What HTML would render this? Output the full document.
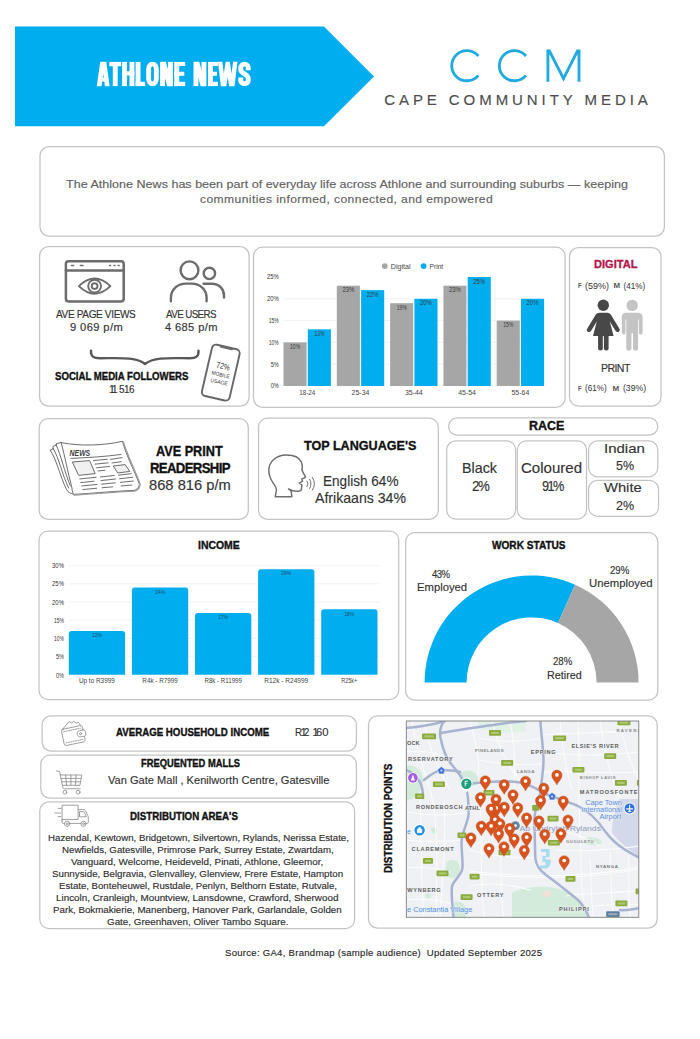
<!DOCTYPE html>
<html lang="en"><head><meta charset="utf-8"><title>Athlone News - Cape Community Media</title>
<style>
html,body{margin:0;padding:0;}
body{width:700px;height:1039px;position:relative;background:#fff;overflow:hidden;font-family:"Liberation Sans", sans-serif;}
.t{position:absolute;white-space:nowrap;line-height:1;display:block;}
svg{position:absolute;left:0;top:0;overflow:visible;}

</style></head>
<body>
<svg width="700" height="140" viewBox="0 0 700 140" aria-label="ATHLONE NEWS">
<polygon points="15,26.6 324,26.6 374,76.4 324,126.3 15,126.3" fill="#00aeef"/>
<defs><clipPath id="mclip"><rect x="540" y="49.6" width="50" height="32.2"/></clipPath><clipPath id="cap"><rect x="90" y="61.7" width="170" height="24.5"/></clipPath></defs>
<g clip-path="url(#cap)" fill="none" stroke="#fff" stroke-linecap="butt">
<path d="M98.90,88.2 L103.25,57.2 L107.60,88.2" stroke-width="4.7" stroke-linejoin="miter" stroke-miterlimit="10"/>
<path d="M100.00,79.60000000000001 H106.50" stroke-width="3.6"/>
<path d="M109.30,64.0 H121.20" stroke-width="4.6"/><path d="M115.25,61.7 V86.2" stroke-width="4.9"/>
<path d="M124.55,61.7 V86.2 M131.95,61.7 V86.2" stroke-width="4.9"/><path d="M122.10,73.45 H134.40" stroke-width="4.2"/>
<path d="M138.05,61.7 V86.2" stroke-width="4.9"/><path d="M135.60,84.0 H145.20" stroke-width="4.4"/>
<rect x="148.65" y="63.85" width="7.70" height="20.20" rx="3.85" ry="5.5" stroke-width="4.9"/>
<path d="M162.55,61.7 V86.2 M170.45,61.7 V86.2" stroke-width="4.9"/><path d="M162.85,60.7 L170.15,87.2" stroke-width="5.2"/>
<path d="M176.75,61.7 V86.2" stroke-width="4.9"/><path d="M174.30,63.900000000000006 H185.20 M174.30,84.0 H185.20" stroke-width="4.4"/><path d="M174.30,73.65 H184.30" stroke-width="4"/>
<path d="M195.95,61.7 V86.2 M203.95,61.7 V86.2" stroke-width="4.9"/><path d="M196.25,60.7 L203.65,87.2" stroke-width="5.2"/>
<path d="M210.45,61.7 V86.2" stroke-width="4.9"/><path d="M208.00,63.900000000000006 H217.90 M208.00,84.0 H217.90" stroke-width="4.4"/><path d="M208.00,73.65 H217.00" stroke-width="4"/>
<path d="M219.90,59.7 L223.53,89.7 L227.70,62.7 L231.87,89.7 L235.50,59.7" stroke-width="4.4" stroke-linejoin="miter" stroke-miterlimit="10"/>
<path d="M248.25,70.3 V67.7 A3.75,3.6 0 0 0 240.75,67.7 V69.2 C240.75,74.2 248.25,73.7 248.25,78.7 V80.2 A3.75,3.6 0 0 1 240.75,80.2 V77.4" stroke-width="4.9"/>
</g>
<g fill="none" stroke="#22a9e0" stroke-width="2.9" stroke-linecap="butt">
<path d="M478.4,56.0 A15.1,15.1 0 1 0 478.4,75.4"/>
<path d="M526.0,56.0 A15.1,15.1 0 1 0 526.0,75.4"/>
<path d="M547.9,83 V48 L563.5,78.6 L579.0,48 V83" stroke-linejoin="miter" stroke-miterlimit="10" clip-path="url(#mclip)"/>
</g>
</svg>
<span class="t" style="top:56.56px;font-size:35.6px;font-weight:700;color:transparent;left:97.00px;letter-spacing:-7.819px;transform:scaleX(0.7688);transform-origin:0 0;">ATHLONE NEWS</span>
<span class="t" style="top:43.46px;font-size:46px;font-weight:400;color:transparent;left:450.30px;letter-spacing:12.667px;">CCM</span>
<span class="t" style="top:91.60px;font-size:15px;font-weight:400;color:#4d4d4d;left:384.20px;letter-spacing:3.931px;-webkit-text-stroke:0.15px #4d4d4d;">CAPE COMMUNITY MEDIA</span>
<svg width="700" height="1039" viewBox="0 0 700 1039"><g fill="#fff" stroke="#c3c3c3" stroke-width="1.25"><rect x="40.0" y="146.6" width="624.4" height="89.5" rx="9" ry="9"/><rect x="39.6" y="246.6" width="209.5" height="159.6" rx="9" ry="9"/><rect x="253.5" y="247.2" width="311.6" height="160.1" rx="9" ry="9"/><rect x="569.5" y="247.6" width="91.5" height="158.4" rx="9" ry="9"/><rect x="39.2" y="418.5" width="209.1" height="100.9" rx="9" ry="9"/><rect x="258.5" y="418.2" width="179.8" height="101.2" rx="9" ry="9"/><rect x="448.6" y="417.9" width="209.2" height="17.1" rx="8.5" ry="8.5"/><rect x="446.7" y="440.9" width="68.9" height="78.1" rx="9" ry="9"/><rect x="517.3" y="440.9" width="69.2" height="78.1" rx="9" ry="9"/><rect x="588.6" y="440.9" width="69.2" height="35.9" rx="9" ry="9"/><rect x="588.6" y="480.3" width="69.9" height="36.0" rx="9" ry="9"/><rect x="39.0" y="531.0" width="359.7" height="168.5" rx="9" ry="9"/><rect x="405.6" y="532.7" width="252.2" height="167.3" rx="9" ry="9"/><rect x="42.1" y="715.8" width="314.3" height="35.3" rx="9" ry="9"/><rect x="40.8" y="755.2" width="315.6" height="42.9" rx="9" ry="9"/><rect x="39.8" y="801.8" width="314.8" height="126.7" rx="9" ry="9"/><rect x="368.5" y="715.9" width="288.7" height="212.2" rx="9" ry="9"/></g></svg>
<span class="t" style="top:178.93px;font-size:11.3px;font-weight:400;color:#616161;left:65.90px;transform:scaleX(1.1115);transform-origin:0 0;-webkit-text-stroke:0.15px #616161;">The Athlone News has been part of everyday life across Athlone and surrounding suburbs — keeping</span>
<span class="t" style="top:193.53px;font-size:11.3px;font-weight:400;color:#616161;left:200.00px;letter-spacing:0.379px;transform:scaleX(1.0712);transform-origin:0 0;-webkit-text-stroke:0.15px #616161;">communities informed, connected, and empowered</span>
<span class="t" style="top:308.93px;font-size:10.6px;font-weight:400;color:#333;left:56.40px;letter-spacing:-0.377px;transform:scaleX(0.9478);transform-origin:0 0;-webkit-text-stroke:0.15px #333;">AVE PAGE VIEWS</span>
<span class="t" style="top:322.50px;font-size:10.4px;font-weight:400;color:#333;left:69.90px;letter-spacing:0.379px;transform:scaleX(1.0701);transform-origin:0 0;-webkit-text-stroke:0.15px #333;">9 069 p/m</span>
<span class="t" style="top:308.93px;font-size:10.6px;font-weight:400;color:#333;left:165.90px;letter-spacing:-0.635px;transform:scaleX(0.9218);transform-origin:0 0;-webkit-text-stroke:0.15px #333;">AVE USERS</span>
<span class="t" style="top:322.50px;font-size:10.4px;font-weight:400;color:#333;left:164.80px;letter-spacing:0.362px;transform:scaleX(1.0669);transform-origin:0 0;-webkit-text-stroke:0.15px #333;">4 685 p/m</span>
<span class="t" style="top:371.78px;font-size:10.3px;font-weight:700;color:#111;left:55.40px;transform:scaleX(0.9328);transform-origin:0 0;-webkit-text-stroke:0.35px #111;">SOCIAL MEDIA FOLLOWERS</span>
<span class="t" style="top:383.63px;font-size:10.6px;font-weight:400;color:#333;left:108.90px;-webkit-text-stroke:0.15px #333;letter-spacing:-2.3px;">11</span>
<span class="t" style="top:383.63px;font-size:10.6px;font-weight:400;color:#333;left:118.80px;letter-spacing:-0.583px;transform:scaleX(0.9382);transform-origin:0 0;-webkit-text-stroke:0.15px #333;">516</span>
<span class="t" style="top:257.78px;font-size:11.6px;font-weight:700;color:#b3174a;left:593.60px;transform:scaleX(0.9535);transform-origin:0 0;-webkit-text-stroke:0.35px #b3174a;">DIGITAL</span>
<span class="t" style="top:362.85px;font-size:11.4px;font-weight:400;color:#333;left:600.60px;letter-spacing:-0.643px;transform:scaleX(0.9300);transform-origin:0 0;-webkit-text-stroke:0.15px #333;">PRINT</span>
<span class="t" style="top:443.75px;font-size:14.0px;font-weight:700;color:#111;left:155.50px;transform:scaleX(0.9058);transform-origin:0 0;-webkit-text-stroke:0.35px #111;">AVE PRINT</span>
<span class="t" style="top:460.85px;font-size:14.0px;font-weight:700;color:#111;left:150.00px;letter-spacing:-0.669px;transform:scaleX(0.9385);transform-origin:0 0;-webkit-text-stroke:0.35px #111;">READERSHIP</span>
<span class="t" style="top:478.43px;font-size:14.5px;font-weight:400;color:#333;left:149.30px;transform:scaleX(1.0146);transform-origin:0 0;-webkit-text-stroke:0.15px #333;">868 816 p/m</span>
<span class="t" style="top:439.39px;font-size:13.6px;font-weight:700;color:#111;left:304.20px;transform:scaleX(0.9264);transform-origin:0 0;-webkit-text-stroke:0.35px #111;">TOP LANGUAGE&#x27;S</span>
<span class="t" style="top:474.00px;font-size:14.3px;font-weight:400;color:#333;left:323.00px;transform:scaleX(0.9499);transform-origin:0 0;-webkit-text-stroke:0.15px #333;">English 64%</span>
<span class="t" style="top:491.40px;font-size:14.3px;font-weight:400;color:#333;left:315.00px;transform:scaleX(0.9871);transform-origin:0 0;-webkit-text-stroke:0.15px #333;">Afrikaans 34%</span>
<span class="t" style="top:418.50px;font-size:13.0px;font-weight:700;color:#111;left:529.30px;transform:scaleX(0.9581);transform-origin:0 0;-webkit-text-stroke:0.35px #111;">RACE</span>
<span class="t" style="top:461.28px;font-size:14.2px;font-weight:400;color:#333;left:461.70px;transform:scaleX(1.0086);transform-origin:0 0;-webkit-text-stroke:0.15px #333;">Black</span>
<span class="t" style="top:479.28px;font-size:14.2px;font-weight:400;color:#333;left:472.00px;letter-spacing:-1.397px;transform:scaleX(0.9363);transform-origin:0 0;-webkit-text-stroke:0.15px #333;">2%</span>
<span class="t" style="top:461.28px;font-size:14.2px;font-weight:400;color:#333;left:520.70px;transform:scaleX(1.0594);transform-origin:0 0;-webkit-text-stroke:0.15px #333;">Coloured</span>
<span class="t" style="top:479.28px;font-size:14.2px;font-weight:400;color:#333;left:542.30px;letter-spacing:-1.710px;transform:scaleX(0.8925);transform-origin:0 0;-webkit-text-stroke:0.15px #333;">91%</span>
<span class="t" style="top:441.99px;font-size:13.6px;font-weight:400;color:#333;left:604.00px;transform:scaleX(1.1013);transform-origin:0 0;-webkit-text-stroke:0.15px #333;">Indian</span>
<span class="t" style="top:459.19px;font-size:13.6px;font-weight:400;color:#333;left:615.70px;transform:scaleX(0.9208);transform-origin:0 0;-webkit-text-stroke:0.15px #333;">5%</span>
<span class="t" style="top:481.39px;font-size:13.6px;font-weight:400;color:#333;left:604.00px;transform:scaleX(1.0849);transform-origin:0 0;-webkit-text-stroke:0.15px #333;">White</span>
<span class="t" style="top:498.69px;font-size:13.6px;font-weight:400;color:#333;left:615.70px;transform:scaleX(0.9208);transform-origin:0 0;-webkit-text-stroke:0.15px #333;">2%</span>
<span class="t" style="top:540.26px;font-size:10.8px;font-weight:700;color:#111;left:198.30px;transform:scaleX(0.9675);transform-origin:0 0;-webkit-text-stroke:0.35px #111;">INCOME</span>
<span class="t" style="top:541.17px;font-size:10.2px;font-weight:700;color:#111;left:492.20px;transform:scaleX(0.9902);transform-origin:0 0;-webkit-text-stroke:0.35px #111;">WORK STATUS</span>
<span class="t" style="top:569.87px;font-size:10.2px;font-weight:400;color:#333;left:432.00px;letter-spacing:-0.635px;transform:scaleX(0.9414);transform-origin:0 0;-webkit-text-stroke:0.15px #333;">43%</span>
<span class="t" style="top:582.97px;font-size:10.2px;font-weight:400;color:#333;left:417.40px;transform:scaleX(1.1057);transform-origin:0 0;-webkit-text-stroke:0.15px #333;">Employed</span>
<span class="t" style="top:565.67px;font-size:10.2px;font-weight:400;color:#333;left:610.20px;transform:scaleX(0.9465);transform-origin:0 0;-webkit-text-stroke:0.15px #333;">29%</span>
<span class="t" style="top:579.47px;font-size:10.2px;font-weight:400;color:#333;left:589.00px;transform:scaleX(1.1118);transform-origin:0 0;-webkit-text-stroke:0.15px #333;">Unemployed</span>
<span class="t" style="top:657.47px;font-size:10.2px;font-weight:400;color:#333;left:553.10px;transform:scaleX(0.9465);transform-origin:0 0;-webkit-text-stroke:0.15px #333;">28%</span>
<span class="t" style="top:670.97px;font-size:10.2px;font-weight:400;color:#333;left:546.50px;transform:scaleX(1.0596);transform-origin:0 0;-webkit-text-stroke:0.15px #333;">Retired</span>
<span class="t" style="top:727.21px;font-size:10.5px;font-weight:700;color:#111;left:116.20px;transform:scaleX(0.9225);transform-origin:0 0;-webkit-text-stroke:0.35px #111;">AVERAGE HOUSEHOLD INCOME</span>
<span class="t" style="top:727.13px;font-size:10.6px;font-weight:400;color:#333;left:294.70px;letter-spacing:-0.625px;transform:scaleX(0.9245);transform-origin:0 0;-webkit-text-stroke:0.15px #333;">R</span>
<span class="t" style="top:727.13px;font-size:10.6px;font-weight:400;color:#333;left:300.70px;-webkit-text-stroke:0.15px #333;">1</span>
<span class="t" style="top:727.13px;font-size:10.6px;font-weight:400;color:#333;left:304.30px;transform:scaleX(0.9143);transform-origin:0 0;-webkit-text-stroke:0.15px #333;">2</span>
<span class="t" style="top:727.13px;font-size:10.6px;font-weight:400;color:#333;left:312.40px;-webkit-text-stroke:0.15px #333;">1</span>
<span class="t" style="top:727.13px;font-size:10.6px;font-weight:400;color:#333;left:316.00px;transform:scaleX(1.0596);transform-origin:0 0;-webkit-text-stroke:0.15px #333;">60</span>
<span class="t" style="top:758.78px;font-size:10.3px;font-weight:700;color:#111;left:141.20px;transform:scaleX(0.9070);transform-origin:0 0;-webkit-text-stroke:0.35px #111;">FREQUENTED MALLS</span>
<span class="t" style="top:774.91px;font-size:11.8px;font-weight:400;color:#333;left:108.20px;transform:scaleX(0.9392);transform-origin:0 0;-webkit-text-stroke:0.15px #333;">Van Gate Mall , Kenilworth Centre, Gatesville</span>
<span class="t" style="top:811.88px;font-size:10.3px;font-weight:700;color:#111;left:129.60px;transform:scaleX(0.9448);transform-origin:0 0;-webkit-text-stroke:0.35px #111;">DISTRIBUTION AREA&#x27;S</span>
<span class="t" style="top:832.89px;font-size:9.7px;font-weight:400;color:#2e2e2e;left:47.60px;transform:scaleX(0.9997);transform-origin:0 0;-webkit-text-stroke:0.15px #2e2e2e;">Hazendal, Kewtown, Bridgetown, Silvertown, Rylands, Nerissa Estate,</span>
<span class="t" style="top:844.99px;font-size:9.7px;font-weight:400;color:#2e2e2e;left:61.70px;transform:scaleX(0.9994);transform-origin:0 0;-webkit-text-stroke:0.15px #2e2e2e;">Newfields, Gatesville, Primrose Park, Surrey Estate, Zwartdam,</span>
<span class="t" style="top:856.89px;font-size:9.7px;font-weight:400;color:#2e2e2e;left:71.40px;transform:scaleX(1.0200);transform-origin:0 0;-webkit-text-stroke:0.15px #2e2e2e;">Vanguard, Welcome, Heideveld, Pinati, Athlone, Gleemor,</span>
<span class="t" style="top:868.79px;font-size:9.7px;font-weight:400;color:#2e2e2e;left:52.00px;transform:scaleX(1.0074);transform-origin:0 0;-webkit-text-stroke:0.15px #2e2e2e;">Sunnyside, Belgravia, Glenvalley, Glenview, Frere Estate, Hampton</span>
<span class="t" style="top:880.89px;font-size:9.7px;font-weight:400;color:#2e2e2e;left:58.60px;transform:scaleX(0.9927);transform-origin:0 0;-webkit-text-stroke:0.15px #2e2e2e;">Estate, Bonteheuwel, Rustdale, Penlyn, Belthorn Estate, Rutvale,</span>
<span class="t" style="top:892.79px;font-size:9.7px;font-weight:400;color:#2e2e2e;left:56.40px;transform:scaleX(1.0183);transform-origin:0 0;-webkit-text-stroke:0.15px #2e2e2e;">Lincoln, Cranleigh, Mountview, Lansdowne, Crawford, Sherwood</span>
<span class="t" style="top:904.69px;font-size:9.7px;font-weight:400;color:#2e2e2e;left:53.20px;transform:scaleX(1.0059);transform-origin:0 0;-webkit-text-stroke:0.15px #2e2e2e;">Park, Bokmakierie, Manenberg, Hanover Park, Garlandale, Golden</span>
<span class="t" style="top:916.89px;font-size:9.7px;font-weight:400;color:#2e2e2e;left:106.60px;transform:scaleX(1.0156);transform-origin:0 0;-webkit-text-stroke:0.15px #2e2e2e;">Gate, Greenhaven, Oliver Tambo Square.</span>
<span class="t" style="left:383.80px;top:873.30px;font-size:10.4px;font-weight:700;color:#111;transform-origin:0 0;transform:rotate(-90deg) scaleX(0.9466);-webkit-text-stroke:0.35px #111;">DISTRIBUTION POINTS</span>
<svg width="700" height="1039" viewBox="0 0 700 1039" font-family="Liberation Sans, sans-serif">
<line x1="283.5" y1="364.2" x2="544.2" y2="364.2" stroke="#ececec" stroke-width="0.8"/>
<line x1="283.5" y1="342.4" x2="544.2" y2="342.4" stroke="#ececec" stroke-width="0.8"/>
<line x1="283.5" y1="320.6" x2="544.2" y2="320.6" stroke="#ececec" stroke-width="0.8"/>
<line x1="283.5" y1="298.8" x2="544.2" y2="298.8" stroke="#ececec" stroke-width="0.8"/>
<rect x="283.5" y="342.4" width="23.1" height="43.6" fill="#a6a6a6"/>
<text x="295.1" y="349.0" font-size="7" fill="#3a3a3a" text-anchor="middle" textLength="10.0" lengthAdjust="spacingAndGlyphs">10%</text>
<rect x="307.8" y="329.3" width="23.1" height="56.7" fill="#00aeef"/>
<text x="319.4" y="335.9" font-size="7" fill="#3a3a3a" text-anchor="middle" textLength="10.0" lengthAdjust="spacingAndGlyphs">13%</text>
<text x="307.2" y="394.6" font-size="6.6" fill="#444" text-anchor="middle" textLength="16.0" lengthAdjust="spacingAndGlyphs">18-24</text>
<rect x="336.8" y="285.7" width="23.1" height="100.3" fill="#a6a6a6"/>
<text x="348.4" y="292.3" font-size="7" fill="#3a3a3a" text-anchor="middle" textLength="11.8" lengthAdjust="spacingAndGlyphs">23%</text>
<rect x="361.1" y="290.1" width="23.1" height="95.9" fill="#00aeef"/>
<text x="372.7" y="296.7" font-size="7" fill="#3a3a3a" text-anchor="middle" textLength="11.8" lengthAdjust="spacingAndGlyphs">22%</text>
<text x="360.5" y="394.6" font-size="6.6" fill="#444" text-anchor="middle" textLength="17.8" lengthAdjust="spacingAndGlyphs">25-34</text>
<rect x="390.1" y="303.2" width="23.1" height="82.8" fill="#a6a6a6"/>
<text x="401.7" y="309.8" font-size="7" fill="#3a3a3a" text-anchor="middle" textLength="10.0" lengthAdjust="spacingAndGlyphs">19%</text>
<rect x="414.4" y="298.8" width="23.1" height="87.2" fill="#00aeef"/>
<text x="425.9" y="305.4" font-size="7" fill="#3a3a3a" text-anchor="middle" textLength="11.8" lengthAdjust="spacingAndGlyphs">20%</text>
<text x="413.8" y="394.6" font-size="6.6" fill="#444" text-anchor="middle" textLength="17.8" lengthAdjust="spacingAndGlyphs">35-44</text>
<rect x="443.4" y="285.7" width="23.1" height="100.3" fill="#a6a6a6"/>
<text x="454.9" y="292.3" font-size="7" fill="#3a3a3a" text-anchor="middle" textLength="11.8" lengthAdjust="spacingAndGlyphs">23%</text>
<rect x="467.7" y="277.0" width="23.1" height="109.0" fill="#00aeef"/>
<text x="479.2" y="283.6" font-size="7" fill="#3a3a3a" text-anchor="middle" textLength="11.8" lengthAdjust="spacingAndGlyphs">25%</text>
<text x="467.1" y="394.6" font-size="6.6" fill="#444" text-anchor="middle" textLength="17.8" lengthAdjust="spacingAndGlyphs">45-54</text>
<rect x="496.7" y="320.6" width="23.1" height="65.4" fill="#a6a6a6"/>
<text x="508.2" y="327.2" font-size="7" fill="#3a3a3a" text-anchor="middle" textLength="10.0" lengthAdjust="spacingAndGlyphs">15%</text>
<rect x="521.0" y="298.8" width="23.1" height="87.2" fill="#00aeef"/>
<text x="532.5" y="305.4" font-size="7" fill="#3a3a3a" text-anchor="middle" textLength="11.8" lengthAdjust="spacingAndGlyphs">20%</text>
<text x="520.4" y="394.6" font-size="6.6" fill="#444" text-anchor="middle" textLength="17.8" lengthAdjust="spacingAndGlyphs">55-64</text>
<text x="278.8" y="388.4" font-size="6.8" fill="#333" text-anchor="end" textLength="8.0" lengthAdjust="spacingAndGlyphs">0%</text>
<text x="278.8" y="366.6" font-size="6.8" fill="#333" text-anchor="end" textLength="8.0" lengthAdjust="spacingAndGlyphs">5%</text>
<text x="278.8" y="344.8" font-size="6.8" fill="#333" text-anchor="end" textLength="10.0" lengthAdjust="spacingAndGlyphs">10%</text>
<text x="278.8" y="323.0" font-size="6.8" fill="#333" text-anchor="end" textLength="10.0" lengthAdjust="spacingAndGlyphs">15%</text>
<text x="278.8" y="301.2" font-size="6.8" fill="#333" text-anchor="end" textLength="11.8" lengthAdjust="spacingAndGlyphs">20%</text>
<text x="278.8" y="279.4" font-size="6.8" fill="#333" text-anchor="end" textLength="11.8" lengthAdjust="spacingAndGlyphs">25%</text>
<circle cx="384.8" cy="266.1" r="2.9" fill="#a6a6a6"/><text x="390.8" y="268.5" font-size="6.8" fill="#444" textLength="19.8" lengthAdjust="spacingAndGlyphs">Digital</text>
<circle cx="423.6" cy="266.1" r="2.9" fill="#00aeef"/><text x="429.6" y="268.5" font-size="6.8" fill="#444" textLength="13.6" lengthAdjust="spacingAndGlyphs">Print</text>
<line x1="68.8" y1="656.6" x2="380" y2="656.6" stroke="#f0f0f0" stroke-width="0.8"/>
<line x1="68.8" y1="638.4" x2="380" y2="638.4" stroke="#f0f0f0" stroke-width="0.8"/>
<line x1="68.8" y1="620.2" x2="380" y2="620.2" stroke="#f0f0f0" stroke-width="0.8"/>
<line x1="68.8" y1="602.0" x2="380" y2="602.0" stroke="#f0f0f0" stroke-width="0.8"/>
<line x1="68.8" y1="583.8" x2="380" y2="583.8" stroke="#f0f0f0" stroke-width="0.8"/>
<line x1="68.8" y1="565.6" x2="380" y2="565.6" stroke="#f0f0f0" stroke-width="0.8"/>
<path d="M68.8,674.8 V634.1 Q68.8,631.1 71.8,631.1 H122.1 Q125.1,631.1 125.1,634.1 V674.8 Z" fill="#00aeef"/>
<text x="96.9" y="637.3" font-size="6" fill="#1d4a66" text-anchor="middle" textLength="9.8" lengthAdjust="spacingAndGlyphs">12%</text>
<text x="96.9" y="682.8" font-size="6.4" fill="#444" text-anchor="middle" textLength="36" lengthAdjust="spacingAndGlyphs">Up to R3999</text>
<path d="M131.9,674.8 V590.4 Q131.9,587.4 134.9,587.4 H185.2 Q188.2,587.4 188.2,590.4 V674.8 Z" fill="#00aeef"/>
<text x="160.1" y="593.6" font-size="6" fill="#1d4a66" text-anchor="middle" textLength="9.8" lengthAdjust="spacingAndGlyphs">24%</text>
<text x="160.1" y="682.8" font-size="6.4" fill="#444" text-anchor="middle" textLength="35.5" lengthAdjust="spacingAndGlyphs">R4k - R7999</text>
<path d="M195.0,674.8 V615.9 Q195.0,612.9 198.0,612.9 H248.3 Q251.3,612.9 251.3,615.9 V674.8 Z" fill="#00aeef"/>
<text x="223.2" y="619.1" font-size="6" fill="#1d4a66" text-anchor="middle" textLength="9.8" lengthAdjust="spacingAndGlyphs">17%</text>
<text x="223.2" y="682.8" font-size="6.4" fill="#444" text-anchor="middle" textLength="37.5" lengthAdjust="spacingAndGlyphs">R8k - R11999</text>
<path d="M258.1,674.8 V572.2 Q258.1,569.2 261.1,569.2 H311.40000000000003 Q314.40000000000003,569.2 314.40000000000003,572.2 V674.8 Z" fill="#00aeef"/>
<text x="286.2" y="575.4" font-size="6" fill="#1d4a66" text-anchor="middle" textLength="9.8" lengthAdjust="spacingAndGlyphs">29%</text>
<text x="286.2" y="682.8" font-size="6.4" fill="#444" text-anchor="middle" textLength="44" lengthAdjust="spacingAndGlyphs">R12k - R24999</text>
<path d="M321.2,674.8 V612.3 Q321.2,609.3 324.2,609.3 H374.5 Q377.5,609.3 377.5,612.3 V674.8 Z" fill="#00aeef"/>
<text x="349.3" y="615.5" font-size="6" fill="#1d4a66" text-anchor="middle" textLength="9.8" lengthAdjust="spacingAndGlyphs">18%</text>
<text x="349.3" y="682.8" font-size="6.4" fill="#444" text-anchor="middle" textLength="16" lengthAdjust="spacingAndGlyphs">R25k+</text>
<text x="63.9" y="677.5" font-size="6.6" fill="#333" text-anchor="end" textLength="8.0" lengthAdjust="spacingAndGlyphs">0%</text>
<text x="63.9" y="659.2" font-size="6.6" fill="#333" text-anchor="end" textLength="8.0" lengthAdjust="spacingAndGlyphs">5%</text>
<text x="63.9" y="641.0" font-size="6.6" fill="#333" text-anchor="end" textLength="10.0" lengthAdjust="spacingAndGlyphs">10%</text>
<text x="63.9" y="622.7" font-size="6.6" fill="#333" text-anchor="end" textLength="10.0" lengthAdjust="spacingAndGlyphs">15%</text>
<text x="63.9" y="604.5" font-size="6.6" fill="#333" text-anchor="end" textLength="11.8" lengthAdjust="spacingAndGlyphs">20%</text>
<text x="63.9" y="586.2" font-size="6.6" fill="#333" text-anchor="end" textLength="11.8" lengthAdjust="spacingAndGlyphs">25%</text>
<text x="63.9" y="568.0" font-size="6.6" fill="#333" text-anchor="end" textLength="11.8" lengthAdjust="spacingAndGlyphs">30%</text>
<path d="M424.6,682.4 A107.0,107.0 0 0 1 575.1,584.7 L558.0,623.0 A65.0,65.0 0 0 0 466.6,682.4 Z" fill="#00aeef"/>
<path d="M575.1,584.7 A107.0,107.0 0 0 1 638.6,682.4 H596.6 A65.0,65.0 0 0 0 558.0,623.0 Z" fill="#a6a6a6"/>
</svg>
<svg width="700" height="1039" viewBox="0 0 700 1039" font-family="Liberation Sans, sans-serif" fill="none">
<g stroke="#6c6c6c" stroke-width="2.5" stroke-linecap="round" stroke-linejoin="round">
<rect x="65.9" y="261.3" width="57.8" height="40.1" rx="2.6"/>
<path d="M65.9,270.6 H123.7"/>
</g>
<g stroke="#6c6c6c" stroke-width="1.5" stroke-linecap="round">
<path d="M71.5,265.4 H73.6 M80.4,265.4 H83 M109.6,265.4 H110.6 M113.9,265.4 H114.9 M118.2,265.4 H119.2"/>
</g>
<g stroke="#6c6c6c" stroke-width="1.9" stroke-linejoin="round">
<path d="M78.9,286.1 Q94.6,271.0 110.4,286.1 Q94.6,301.2 78.9,286.1 Z"/>
<circle cx="94.6" cy="286.1" r="6.4"/><circle cx="94.6" cy="286.1" r="2.9"/>
</g>
<g stroke="#6c6c6c" stroke-width="2.4" stroke-linecap="round">
<circle cx="189.5" cy="270.3" r="8.9"/><circle cx="209.4" cy="273.4" r="5.7"/>
<path d="M170.9,301.2 V298 C170.9,289.5 177.5,283.6 186,283.6 H191.6 C200,283.6 206.6,289.5 206.6,298 V301.2"/>
<path d="M203.6,283.8 H212 C219,283.8 224,289 224,295.5 V297.6"/>
</g>
<path d="M91.0,350.6 C90.6,356.5 93.5,358.2 100,358.2 C118,358.2 136,356.6 145.0,364.0 C154,356.6 172,358.2 189.5,358.2 C196,358.2 198.9,356.5 198.5,350.6" stroke="#595959" stroke-width="2.4" stroke-linecap="round" stroke-linejoin="round"/>
<g transform="translate(220.8,372.65) rotate(13)">
<rect x="-14.2" y="-26.3" width="28.4" height="52.6" rx="4.2" stroke="#666" stroke-width="1.9"/>
<path d="M-5.5,-25.6 H5.5" stroke="#6a6a6a" stroke-width="2.6" stroke-linecap="round"/>
<g fill="#333" stroke="none" text-anchor="middle">
<text x="0.9" y="-4.0" font-size="8.6" textLength="13.8" lengthAdjust="spacingAndGlyphs">72%</text>
<text x="0.3" y="3.8" font-size="5.4" textLength="18.4" lengthAdjust="spacingAndGlyphs">MOBILE</text>
<text x="0.4" y="11.2" font-size="5.4" textLength="17.4" lengthAdjust="spacingAndGlyphs">USAGE</text>
</g></g>
<g fill="#484848" stroke="none">
<circle cx="603.3" cy="305.2" r="5.7"/>
<path d="M599.6,312.8 H607.0 C609.2,312.8 610.4,313.8 611.4,315.6 L619.3,328.6 C620.2,330.2 619.6,331.4 618.5,331.9 C617.4,332.4 616.3,332.0 615.5,330.7 L609.8,321.6 L613.6,335.9 H593.0 L596.8,321.6 L591.1,330.7 C590.3,332.0 589.2,332.4 588.1,331.9 C587.0,331.4 586.4,330.2 587.3,328.6 L595.2,315.6 C596.2,313.8 597.4,312.8 599.6,312.8 Z"/>
<rect x="598.1" y="334" width="4.7" height="16.4" rx="2.2"/><rect x="603.9" y="334" width="4.7" height="16.4" rx="2.2"/>
</g>
<g fill="#c4c4c4" stroke="none">
<circle cx="632.2" cy="305.4" r="5.7"/>
<path d="M626.0,312.8 H638.4 C641.0,312.8 642.6,314.4 642.6,317 V332.6 C642.6,335.3 638.9,335.3 638.9,332.6 V319.5 H638.1 V348.4 C638.1,351.3 633.0,351.3 633.0,348.4 V333.2 H631.4 V348.4 C631.4,351.3 626.3,351.3 626.3,348.4 V319.5 H625.5 V332.6 C625.5,335.3 621.8,335.3 621.8,332.6 V317 C621.8,314.4 623.4,312.8 626.0,312.8 Z"/>
</g>
<g fill="#333" stroke="none">
<text x="578.0" y="288.40000000000003" font-size="6.8" font-weight="700" fill="#555" textLength="3.6" lengthAdjust="spacingAndGlyphs">F</text>
<text x="585.0" y="288.8" font-size="9.6" textLength="24.0" lengthAdjust="spacingAndGlyphs">(59%)</text>
<text x="613.6" y="288.40000000000003" font-size="6.8" font-weight="700" fill="#555" textLength="6.6" lengthAdjust="spacingAndGlyphs">M</text>
<text x="623.6" y="288.8" font-size="9.6" textLength="21.6" lengthAdjust="spacingAndGlyphs">(41%)</text>
<text x="578.0" y="390.8" font-size="6.8" font-weight="700" fill="#555" textLength="3.6" lengthAdjust="spacingAndGlyphs">F</text>
<text x="585.0" y="391.2" font-size="9.6" textLength="21.6" lengthAdjust="spacingAndGlyphs">(61%)</text>
<text x="612.6" y="390.8" font-size="6.8" font-weight="700" fill="#555" textLength="6.6" lengthAdjust="spacingAndGlyphs">M</text>
<text x="623.0" y="391.2" font-size="9.6" textLength="23.0" lengthAdjust="spacingAndGlyphs">(39%)</text>
</g>
<g stroke="#5c5c5c" stroke-width="0.9" stroke-linejoin="round" stroke-linecap="round">
<path d="M50.3,450.3 C56,458 60,476 66.5,489.5 C68,492.5 71,493.8 73.8,494.2" />
<path d="M50.3,450.3 L53.2,448.6 M53.2,448.6 C59,458 62,474 68.6,488.0 M53.2,448.6 L53.0,446.4 L56.2,445.0 M56.2,445.0 C61,455 64.5,472 70.4,486.0 M56.2,445.0 L56.4,443.6 L61.2,442.6"/>
<path d="M61.2,442.6 C80,446.5 104,445.5 122.5,441.3 C126,455 134,470 139.2,483.6 C139.8,486.5 137,489.6 134.3,490.4 C115,491.0 93,493.4 73.8,494.4 C71.5,492.0 72.6,489.0 71.4,485.6 C68,473 65,457 61.2,442.6 Z" fill="#fff"/>
</g>
<path d="M123.3,441.8 C127,455 135,470 140.0,483.8 C140.6,487.2 137.6,490.4 134.6,491.2 C115,491.8 93,494.2 74.2,495.2" stroke="#9a9a9a" stroke-width="1.3" stroke-linecap="round"/>
<text x="69.6" y="456.2" font-size="8.4" font-weight="700" font-style="italic" fill="#3c3c3c" stroke="none" textLength="20.6" lengthAdjust="spacingAndGlyphs">NEWS</text>
<path d="M70.6,458.4 C88,457.6 106,456.6 121.4,454.4" stroke="#5c5c5c" stroke-width="0.9"/>
<path d="M72.4,462.0 L89.6,460.6 L95.2,473.6 L78.6,475.4 Z" stroke="#5c5c5c" stroke-width="0.9" fill="#f1f1f1"/>
<path d="M113.2,466.0 L125.2,464.6 L129.8,471.4 L117.8,473.0 Z" stroke="#5c5c5c" stroke-width="0.9" fill="#f1f1f1"/>
<g stroke="#6e6e6e" stroke-width="1.0">
<path d="M93.2,460.6 L107.6,459.2"/>
<path d="M94.6,464.2 L108.6,462.8"/>
<path d="M96.2,467.8 L110.0,466.4"/>
<path d="M97.8,471.0 L105.2,470.2"/>
<path d="M110.0,459.4 L122.6,457.6"/>
<path d="M111.6,463.0 L121.6,461.6"/>
<path d="M79.4,479.0 L96.6,477.2"/>
<path d="M80.4,482.6 L94.4,481.2"/>
<path d="M81.4,486.0 L97.4,484.4"/>
<path d="M82.4,489.6 L97.0,488.2"/>
<path d="M100.0,477.0 L114.6,475.4"/>
<path d="M100.6,480.6 L115.8,479.0"/>
<path d="M101.2,484.2 L115.6,482.8"/>
<path d="M101.6,487.8 L113.2,486.8"/>
<path d="M118.2,475.2 L131.6,473.6"/>
<path d="M119.2,478.8 L133.2,477.2"/>
<path d="M120.0,482.4 L133.8,481.0"/>
<path d="M120.8,486.0 L132.2,485.0"/>
</g>
<path d="M275.2,496.8 H291.9 L291.2,491.3 C290.4,490.2 289.4,489.4 288.5,489.0 C291.5,490.6 295.5,491.6 298.8,491.2 C300.6,491.0 301.4,490.2 301.5,488.8 C301.6,487.4 301.6,486.2 301.9,485.0 C301.0,484.2 300.2,483.6 299.3,482.9 C300.6,482.4 301.8,481.8 302.6,481.0 C302.2,480.2 301.9,479.6 301.8,478.9 C303.2,478.4 304.6,477.8 305.5,476.9 C304.2,474.6 302.8,472.4 302.0,470.0 C302.6,467.2 302.4,464.6 301.4,462.0 C299.2,457.2 293.0,454.9 286.0,455.0 C276.0,455.2 268.8,461.8 268.8,470.2 C268.8,475.6 270.8,479.6 273.4,483.4 C275.4,486.2 276.6,488.2 276.4,490.4 Z" stroke="#6e6e6e" stroke-width="1.45" stroke-linejoin="round"/>
<g stroke="#6e6e6e" stroke-width="1.0" stroke-linecap="round">
<path d="M307.0,481.0 Q309.0,483.8 307.0,486.6"/><path d="M309.6,479.2 Q312.6,483.8 309.6,488.4"/><path d="M312.4,477.4 Q316.6,483.8 312.4,490.2"/>
</g>
<g stroke="#8e8e8e" stroke-width="0.8" stroke-linejoin="round" stroke-linecap="round" transform="translate(73,734.5) rotate(-12)">
<rect x="-10.6" y="-7.2" width="21.4" height="16.6" rx="2.2" fill="#fff"/>
<path d="M-9.6,-7.0 L-1.2,-13.4 L1.2,-11.6 L3.4,-12.8 L5.6,-10.6 L7.4,-11.2 L9.4,-7.2" />
<path d="M-8.6,-4.6 H8.8 M-8.6,6.8 H8.8" stroke-dasharray="1.2 1.2"/>
<path d="M10.8,-2.4 H7.4 C5.2,-2.4 4.2,-1 4.2,0.8 C4.2,2.6 5.2,4 7.4,4 H10.8 C12.2,4 12.6,3.2 12.6,2.2 V-0.6 C12.6,-1.6 12.2,-2.4 10.8,-2.4 Z" fill="#fff"/>
<circle cx="7.6" cy="0.8" r="1.1"/>
</g>
<g stroke="#8e8e8e" stroke-width="0.85" stroke-linejoin="round" stroke-linecap="round">
<path d="M56.4,770.9 L59.6,771.6 L62.6,786.2 C62.9,787.8 63.2,788.8 64.4,788.8 H80.2"/>
<path d="M60.3,775.0 H81.8 L79.9,785.3 H62.4"/>
<path d="M60.9,778.4 H81.2 M61.6,781.8 H80.6 M65.6,775.0 L66.6,785.3 M70.9,775.0 V785.3 M76.2,775.0 L75.4,785.3"/>
<circle cx="64.9" cy="792.2" r="1.9"/><circle cx="78.1" cy="792.2" r="1.9"/>
</g>
<g stroke="#8e8e8e" stroke-width="0.85" stroke-linejoin="round" stroke-linecap="round">
<path d="M62.1,820.6 V805.2 H78.1 V819.4 H62.1"/>
<path d="M78.1,809.6 H83.0 C84.4,809.6 85.2,810.2 85.8,811.4 L87.8,815.6 C88.2,816.4 88.3,817 88.3,818 V822.0 C88.3,823.0 87.8,823.4 86.8,823.4 H86.2 M80.8,823.4 H69.9 M64.4,823.4 H63.2 C62.4,823.4 62.1,823.0 62.1,822.2 V820.6"/>
<path d="M79.9,811.6 H82.8 C83.8,811.6 84.2,812 84.6,812.8 L86.4,816.8 H79.9 Z"/>
<circle cx="67.1" cy="823.8" r="2.6"/><circle cx="83.5" cy="823.8" r="2.6"/><circle cx="67.1" cy="823.8" r="0.9"/><circle cx="83.5" cy="823.8" r="0.9"/>
<path d="M58.1,808.4 H61.0 M54.8,813.0 H60.6 M58.1,816.6 H60.8"/>
</g>
</svg>
<svg width="700" height="1039" viewBox="0 0 700 1039" font-family="Liberation Sans, sans-serif">
<defs><clipPath id="mapclip"><rect x="406.3" y="721.0" width="232.5" height="196.3"/></clipPath></defs>
<g clip-path="url(#mapclip)">
<rect x="406.3" y="721.0" width="232.5" height="196.3" fill="#eff1f4"/>
<path d="M478,721 H526 V731 C510,734 492,733 478,728 Z" fill="#e0f1e6"/>
<path d="M406,766 C414,764 424,770 423,782 C422,792 414,800 406,801 Z" fill="#d3ebdb"/>
<path d="M460,774 C466,768 476,770 478,778 C478,786 470,789 463,786 C459,783 458,778 460,774 Z" fill="#d3ebdb"/>
<path d="M446,866 C446,859 456,858 459,864 C461,870 460,876 454,878 C448,879 445,873 446,866 Z" fill="#d3ebdb"/>
<path d="M454,903 C459,900 466,903 466,910 V918 H453 Z" fill="#d3ebdb"/>
<path d="M512,893 C520,888 534,886 548,887 C562,888 572,894 580,903 L588,918 H512 Z" fill="#d3ebdb"/>
<ellipse cx="546.8" cy="893.6" rx="4.2" ry="3.4" fill="#f3e0d8"/>
<path d="M585,838 C592,836 600,838 602,842 C600,846 590,846 585,843 Z" fill="#d3ebdb"/>
<path d="M431,828 C434,826 438,828 437,832 C435,835 431,834 431,828 Z" fill="#d3ebdb"/>
<path d="M425,894 C428,892 432,894 431,897 C429,900 425,899 425,894 Z" fill="#d3ebdb"/>
<path d="M620,799 H640 V857 C630,851 620,843 612,833 C612,820 615,808 620,799 Z" fill="#d3d9ea"/>
<path d="M541,849 H549.5 V857 H545.5 V859.5 H550.5 C551.5,863 550,867 546.5,868.5 H540 V865.5 H545.5 V862 H542.5 V856 H546 V852 H541 Z" fill="#a6dcef"/>
<g fill="none" stroke="#fbfcfd" stroke-width="1.05" stroke-linecap="round">
<path d="M406,752 C420,750 436,752 452,760"/>
<path d="M412,721 C414,740 420,760 430,790 C436,810 438,840 436,918"/>
<path d="M424,721 C428,745 436,765 450,790"/>
<path d="M406,812 C430,816 450,816 470,812"/>
<path d="M406,840 C425,842 445,842 462,840"/>
<path d="M406,868 C420,866 436,868 450,872"/>
<path d="M406,900 C426,898 440,900 452,904"/>
<path d="M420,800 C422,830 420,870 424,918"/>
<path d="M444,800 C446,830 444,860 440,918"/>
<path d="M470,721 C476,745 480,760 478,775"/>
<path d="M492,721 C498,745 506,765 520,780"/>
<path d="M510,721 C514,740 516,760 514,790"/>
<path d="M478,738 C500,742 524,742 541,738"/>
<path d="M478,760 C500,764 520,766 541,764"/>
<path d="M470,850 C490,856 510,858 535,858"/>
<path d="M470,886 C490,882 510,884 530,890"/>
<path d="M480,800 C482,840 480,880 484,918"/>
<path d="M500,850 C502,870 500,900 504,918"/>
<path d="M544,735 C570,732 600,734 640,730"/>
<path d="M544,752 C570,756 600,756 640,752"/>
<path d="M544,772 C570,770 600,774 640,772"/>
<path d="M560,721 C562,745 566,770 572,790"/>
<path d="M578,721 C580,750 578,790 580,830 C582,860 580,890 584,900"/>
<path d="M600,721 C604,750 610,775 620,798"/>
<path d="M620,721 C624,745 630,765 640,780"/>
<path d="M556,850 C580,852 610,850 640,846"/>
<path d="M590,860 C592,880 590,900 594,918"/>
<path d="M610,852 C612,880 610,900 614,918"/>
<path d="M628,856 C630,880 628,900 630,918"/>
<path d="M566,896 C590,892 615,894 640,890"/>
<path d="M594,906 C610,904 625,906 640,904"/>
<path d="M540,826 C560,830 580,834 600,846"/>
</g>
<path d="M470,872 C500,876 540,877 570,876 C600,875 620,872 640,868" fill="none" stroke="#ffffff" stroke-width="2.6"/>
<path d="M470,872 C500,876 540,877 570,876 C600,875 620,872 640,868" fill="none" stroke="#dfe3e8" stroke-width="0.5"/>
<g fill="none" stroke="#a7b3d1" stroke-width="2.5" stroke-linecap="round" stroke-linejoin="round">
<path d="M406,728 C418,727 432,725 445,721"/>
<path d="M444,721 C440,727 439,733 441,740 C443,750 446,758 452,765 C458,772 463,778 466,786 C468,795 469,805 468.5,815 C467,825 462,832 461.5,842 C461.5,852 463,860 462.5,868 C461,876 454,880 452,886 C451,895 452.5,905 453.5,918"/>
<path d="M441,733 C460,729 480,727 500,724 C512,722 520,721.5 526,721"/>
<path d="M406,770 C412,772 416,776 420,782 C422,786 423,792 423,798"/>
<path d="M424,780 C430,775 436,771 441,770.5 C448,770 454,770 460,772"/>
<path d="M468,784 C485,781 505,781 520,782.5 C530,784 538,790 546,794 C556,798 566,801 578,806 C588,811 596,818 604,830 C610,838 616,844 624,849 C630,853 636,856 640,858"/>
<path d="M540.5,721 C541,735 543.5,748 543.5,760 C543.5,772 541,782 541,790 C539,800 535,808 534.5,818 C534.5,830 535,845 535.3,858 C536,866 540,870 546,875 C556,882 568,892 578,900 C584,906 587,912 589,918"/>
<path d="M620,910 C628,911 634,909 640,908"/>
</g>
<rect x="422.1" y="733.6" width="14" height="5.6" rx="0.8" fill="#8bab3f"/>
<rect x="424.3" y="735.3" width="9.6" height="2.2" fill="#b6cc78" opacity="0.85"/>
<rect x="489.0" y="730.1" width="12" height="5.6" rx="0.8" fill="#8bab3f"/>
<rect x="491.2" y="731.8" width="7.6" height="2.2" fill="#b6cc78" opacity="0.85"/>
<rect x="501.1" y="760.1" width="12" height="5.6" rx="0.8" fill="#8bab3f"/>
<rect x="503.3" y="761.8" width="7.6" height="2.2" fill="#b6cc78" opacity="0.85"/>
<rect x="432.9" y="781.5" width="12" height="5.6" rx="0.8" fill="#8bab3f"/>
<rect x="435.1" y="783.2" width="7.6" height="2.2" fill="#b6cc78" opacity="0.85"/>
<rect x="415.1" y="793.5" width="9" height="5.6" rx="0.8" fill="#8bab3f"/>
<rect x="417.3" y="795.2" width="4.6" height="2.2" fill="#b6cc78" opacity="0.85"/>
<rect x="483.4" y="789.9" width="11" height="5.6" rx="0.8" fill="#8bab3f"/>
<rect x="485.6" y="791.6" width="6.6" height="2.2" fill="#b6cc78" opacity="0.85"/>
<rect x="553.1" y="735.4" width="13" height="5.6" rx="0.8" fill="#8bab3f"/>
<rect x="555.3" y="737.1" width="8.6" height="2.2" fill="#b6cc78" opacity="0.85"/>
<rect x="617.4" y="719.7" width="13" height="5.6" rx="0.8" fill="#8bab3f"/>
<rect x="619.6" y="721.4" width="8.6" height="2.2" fill="#b6cc78" opacity="0.85"/>
<rect x="604.2" y="753.3" width="12" height="5.6" rx="0.8" fill="#8bab3f"/>
<rect x="606.4" y="755.0" width="7.6" height="2.2" fill="#b6cc78" opacity="0.85"/>
<rect x="572.4" y="767.0" width="12" height="5.6" rx="0.8" fill="#8bab3f"/>
<rect x="574.6" y="768.7" width="7.6" height="2.2" fill="#b6cc78" opacity="0.85"/>
<rect x="614.9" y="780.1" width="12" height="5.6" rx="0.8" fill="#8bab3f"/>
<rect x="617.1" y="781.8" width="7.6" height="2.2" fill="#b6cc78" opacity="0.85"/>
<rect x="636.9" y="780.1" width="3" height="5.6" rx="0.8" fill="#8bab3f"/>
<rect x="532.2" y="805.1" width="7" height="5.6" rx="0.8" fill="#8bab3f"/>
<rect x="547.5" y="815.8" width="11" height="5.6" rx="0.8" fill="#8bab3f"/>
<rect x="549.7" y="817.5" width="6.6" height="2.2" fill="#b6cc78" opacity="0.85"/>
<rect x="457.5" y="832.4" width="9" height="5.6" rx="0.8" fill="#8bab3f"/>
<rect x="459.7" y="834.1" width="4.6" height="2.2" fill="#b6cc78" opacity="0.85"/>
<rect x="423.0" y="858.1" width="10" height="5.6" rx="0.8" fill="#8bab3f"/>
<rect x="425.2" y="859.8" width="5.6" height="2.2" fill="#b6cc78" opacity="0.85"/>
<rect x="436.5" y="870.6" width="12" height="5.6" rx="0.8" fill="#8bab3f"/>
<rect x="438.7" y="872.3" width="7.6" height="2.2" fill="#b6cc78" opacity="0.85"/>
<rect x="469.6" y="873.8" width="10" height="5.6" rx="0.8" fill="#8bab3f"/>
<rect x="471.8" y="875.5" width="5.6" height="2.2" fill="#b6cc78" opacity="0.85"/>
<rect x="460.6" y="894.3" width="12" height="5.6" rx="0.8" fill="#8bab3f"/>
<rect x="462.8" y="896.0" width="7.6" height="2.2" fill="#b6cc78" opacity="0.85"/>
<rect x="498.5" y="849.7" width="12" height="5.6" rx="0.8" fill="#8bab3f"/>
<rect x="500.7" y="851.4" width="7.6" height="2.2" fill="#b6cc78" opacity="0.85"/>
<rect x="547.9" y="839.9" width="12" height="5.6" rx="0.8" fill="#8bab3f"/>
<rect x="550.1" y="841.6" width="7.6" height="2.2" fill="#b6cc78" opacity="0.85"/>
<rect x="565.5" y="876.1" width="10" height="5.6" rx="0.8" fill="#8bab3f"/>
<rect x="567.7" y="877.8" width="5.6" height="2.2" fill="#b6cc78" opacity="0.85"/>
<rect x="635.6" y="888.6" width="4" height="5.6" rx="0.8" fill="#8bab3f"/>
<rect x="615.4" y="900.6" width="12" height="5.6" rx="0.8" fill="#8bab3f"/>
<rect x="617.6" y="902.3" width="7.6" height="2.2" fill="#b6cc78" opacity="0.85"/>
<rect x="606.2" y="911.2" width="13.4" height="5.8" rx="0.8" fill="#5d7f9e"/><rect x="608.4" y="913" width="9" height="2.2" fill="#9db4c8" opacity="0.8"/>
<text x="407" y="745.2" font-size="5.6" font-weight="700" fill="#5e5e5e" textLength="12.6" lengthAdjust="spacing" stroke="#eef1f4" stroke-width="0.9" paint-order="stroke">OCK</text>
<text x="408" y="761.3" font-size="5.6" font-weight="700" fill="#5e5e5e" textLength="44.7" lengthAdjust="spacing" stroke="#eef1f4" stroke-width="0.9" paint-order="stroke">RSERVATORY</text>
<text x="475" y="752.3" font-size="4.4" font-weight="700" fill="#8a8a8a" textLength="28.6" lengthAdjust="spacing" stroke="#eef1f4" stroke-width="0.9" paint-order="stroke">PINELANDS</text>
<text x="416" y="809.0" font-size="5.6" font-weight="700" fill="#5e5e5e" textLength="46.5" lengthAdjust="spacing" stroke="#eef1f4" stroke-width="0.9" paint-order="stroke">RONDEBOSCH</text>
<text x="465" y="809.9" font-size="5.6" font-weight="700" fill="#5e5e5e" textLength="15.0" lengthAdjust="spacing" stroke="#eef1f4" stroke-width="0.9" paint-order="stroke">ATHL</text>
<text x="517" y="773.1" font-size="4.4" font-weight="700" fill="#8a8a8a" textLength="17.3" lengthAdjust="spacing" stroke="#eef1f4" stroke-width="0.9" paint-order="stroke">LANGA</text>
<text x="616.4" y="732.1" font-size="4.4" font-weight="700" fill="#8a8a8a" textLength="24.1" lengthAdjust="spacing" stroke="#eef1f4" stroke-width="0.9" paint-order="stroke">RAVENS</text>
<text x="571.4" y="747.7" font-size="5.6" font-weight="700" fill="#5e5e5e" textLength="47.2" lengthAdjust="spacing" stroke="#eef1f4" stroke-width="0.9" paint-order="stroke">ELSIE'S RIVER</text>
<text x="530.7" y="754.0" font-size="5.6" font-weight="700" fill="#5e5e5e" textLength="25.0" lengthAdjust="spacing" stroke="#eef1f4" stroke-width="0.9" paint-order="stroke">EPPING</text>
<text x="579.8" y="779.0" font-size="4.2" font-weight="700" fill="#8c8c8c" textLength="35.7" lengthAdjust="spacing" stroke="#eef1f4" stroke-width="0.9" paint-order="stroke">BISHOP LAVIS</text>
<text x="579.8" y="793.8" font-size="5.6" font-weight="700" fill="#5e5e5e" textLength="65.2" lengthAdjust="spacing" stroke="#eef1f4" stroke-width="0.9" paint-order="stroke">MATROOSFONTEIN</text>
<text x="411.6" y="850.6" font-size="5.6" font-weight="700" fill="#5e5e5e" textLength="42.0" lengthAdjust="spacing" stroke="#eef1f4" stroke-width="0.9" paint-order="stroke">CLAREMONT</text>
<text x="407.2" y="892.0" font-size="5.6" font-weight="700" fill="#5e5e5e" textLength="33.5" lengthAdjust="spacing" stroke="#eef1f4" stroke-width="0.9" paint-order="stroke">WYNBERG</text>
<text x="477" y="896.8" font-size="5.6" font-weight="700" fill="#5e5e5e" textLength="26.6" lengthAdjust="spacing" stroke="#eef1f4" stroke-width="0.9" paint-order="stroke">OTTERY</text>
<text x="566" y="842.9" font-size="4.2" font-weight="700" fill="#8c8c8c" textLength="27.6" lengthAdjust="spacing" stroke="#eef1f4" stroke-width="0.9" paint-order="stroke">GUGULETU</text>
<text x="595.9" y="867.5" font-size="4.4" font-weight="700" fill="#7a7a7a" textLength="22.0" lengthAdjust="spacing" stroke="#eef1f4" stroke-width="0.9" paint-order="stroke">NYANGA</text>
<text x="558.9" y="911.3" font-size="5.6" font-weight="700" fill="#5e5e5e" textLength="29.9" lengthAdjust="spacing" stroke="#eef1f4" stroke-width="0.9" paint-order="stroke">PHILIPPI</text>
<text x="585.2" y="805.1" font-size="7.2" fill="#5b8fdc" textLength="36.6" lengthAdjust="spacingAndGlyphs" stroke="#eef1f4" stroke-width="0.8" paint-order="stroke">Cape Town</text>
<text x="581.3" y="812.1" font-size="7.2" fill="#5b8fdc" textLength="40.5" lengthAdjust="spacingAndGlyphs" stroke="#eef1f4" stroke-width="0.8" paint-order="stroke">International</text>
<text x="599.5" y="819.2" font-size="7.2" fill="#5b8fdc" textLength="21.9" lengthAdjust="spacingAndGlyphs" stroke="#eef1f4" stroke-width="0.8" paint-order="stroke">Airport</text>
<text x="407.0" y="911.9" font-size="7.4" fill="#4f93dc" textLength="65.3" lengthAdjust="spacingAndGlyphs" stroke="#eef1f4" stroke-width="0.8" paint-order="stroke">e Constantia Village</text>
<text x="407.0" y="833.7" font-size="7.4" fill="#4f93dc" textLength="3.8" lengthAdjust="spacingAndGlyphs" stroke="#eef1f4" stroke-width="0.8" paint-order="stroke">e</text>
<text x="519.5" y="831.2" font-size="7.2" fill="#8f9bbd" textLength="81.5" lengthAdjust="spacingAndGlyphs" stroke="#eef1f4" stroke-width="0.8" paint-order="stroke">Ab Undrylah Rylands</text>
<circle cx="412.9" cy="777.9" r="5.6" fill="#fff"/><circle cx="412.9" cy="777.9" r="4.8" fill="#a45be0"/><path d="M412.9,774.6 L415,780.6 H410.8 Z" fill="#fff"/>
<path d="M441.4,766.6 L445.2,769.4 L443.8,774 H439 L437.6,769.4 Z" fill="#3f74d6" stroke="#fff" stroke-width="0.5"/><circle cx="441.4" cy="770.6" r="1.1" fill="#cfe0ff"/>
<path d="M552.1,792.5 L555.9,795.3 L554.5,799.9 H549.7 L548.3,795.3 Z" fill="#3f74d6" stroke="#fff" stroke-width="0.5"/><circle cx="552.1" cy="796.5" r="1.1" fill="#cfe0ff"/>
<path d="M466.4,792.4 L462,788 A6.2,6.2 0 1 1 470.8,788 Z" fill="#fff"/><circle cx="466.4" cy="783.8" r="5.2" fill="#1f9e7c"/><path d="M465.2,786.4 V781.2 H468 M465.2,783.7 H467.4" stroke="#fff" stroke-width="0.9" fill="none"/>
<circle cx="419.6" cy="830.2" r="6.3" fill="#fff"/><circle cx="419.6" cy="830.2" r="5.2" fill="#1f8fe3"/><path d="M417.3,829.3 H421.9 V832.7 H417.3 Z M418.4,829.3 V828.4 C418.4,827.2 420.8,827.2 420.8,828.4 V829.3" fill="#fff" stroke="#fff" stroke-width="0.5"/>
<circle cx="629.6" cy="808.4" r="6.0" fill="#fff"/><circle cx="629.6" cy="808.4" r="5.0" fill="#2f72e3"/><path d="M629.6,805.2 V811.6 M626.6,808.9 H632.6 M628.3,811.2 H630.9" stroke="#fff" stroke-width="1.1" fill="none" stroke-linecap="round"/>
<circle cx="515.4" cy="825.6" r="4.4" fill="#6b8397"/><circle cx="515.4" cy="825.6" r="1.6" fill="#dfe7ee"/>
<path d="M556.9,784.9 C555.2,781.2 551.75,778.7 551.75,775.2 A5.15,5.15 0 1 1 562.05,775.2 C562.05,778.7 558.6,781.2 556.9,784.9 Z" fill="#d8541f" stroke="#c04a1c" stroke-width="0.4"/><circle cx="556.9" cy="774.9" r="1.85" fill="#fff"/>
<path d="M485.3,790.6 C483.6,786.9 480.15,784.4 480.15,780.9 A5.15,5.15 0 1 1 490.45,780.9 C490.45,784.4 487.0,786.9 485.3,790.6 Z" fill="#d8541f" stroke="#c04a1c" stroke-width="0.4"/><circle cx="485.3" cy="780.6" r="1.85" fill="#fff"/>
<path d="M525.6,791.0 C523.9,787.3 520.45,784.8 520.45,781.3 A5.15,5.15 0 1 1 530.75,781.3 C530.75,784.8 527.3,787.3 525.6,791.0 Z" fill="#d8541f" stroke="#c04a1c" stroke-width="0.4"/><circle cx="525.6" cy="781.0" r="1.85" fill="#fff"/>
<path d="M504.2,794.4 C502.5,790.7 499.05,788.2 499.05,784.7 A5.15,5.15 0 1 1 509.35,784.7 C509.35,788.2 505.9,790.7 504.2,794.4 Z" fill="#d8541f" stroke="#c04a1c" stroke-width="0.4"/><circle cx="504.2" cy="784.4" r="1.85" fill="#fff"/>
<path d="M543.8,797.9 C542.1,794.2 538.65,791.7 538.65,788.2 A5.15,5.15 0 1 1 548.95,788.2 C548.95,791.7 545.5,794.2 543.8,797.9 Z" fill="#d8541f" stroke="#c04a1c" stroke-width="0.4"/><circle cx="543.8" cy="787.9" r="1.85" fill="#fff"/>
<path d="M513.0,804.5 C511.3,800.8 507.85,798.3 507.85,794.8 A5.15,5.15 0 1 1 518.15,794.8 C518.15,798.3 514.7,800.8 513.0,804.5 Z" fill="#d8541f" stroke="#c04a1c" stroke-width="0.4"/><circle cx="513.0" cy="794.5" r="1.85" fill="#fff"/>
<path d="M480.5,807.3 C478.8,803.6 475.35,801.1 475.35,797.6 A5.15,5.15 0 1 1 485.65,797.6 C485.65,801.1 482.2,803.6 480.5,807.3 Z" fill="#d8541f" stroke="#c04a1c" stroke-width="0.4"/><circle cx="480.5" cy="797.3" r="1.85" fill="#fff"/>
<path d="M496.0,809.0 C494.3,805.3 490.85,802.8 490.85,799.3 A5.15,5.15 0 1 1 501.15,799.3 C501.15,802.8 497.7,805.3 496.0,809.0 Z" fill="#d8541f" stroke="#c04a1c" stroke-width="0.4"/><circle cx="496.0" cy="799.0" r="1.85" fill="#fff"/>
<path d="M540.6,810.2 C538.9,806.5 535.45,804.0 535.45,800.5 A5.15,5.15 0 1 1 545.75,800.5 C545.75,804.0 542.3,806.5 540.6,810.2 Z" fill="#d8541f" stroke="#c04a1c" stroke-width="0.4"/><circle cx="540.6" cy="800.2" r="1.85" fill="#fff"/>
<path d="M563.2,810.9 C561.5,807.2 558.05,804.7 558.05,801.2 A5.15,5.15 0 1 1 568.35,801.2 C568.35,804.7 564.9,807.2 563.2,810.9 Z" fill="#d8541f" stroke="#c04a1c" stroke-width="0.4"/><circle cx="563.2" cy="800.9" r="1.85" fill="#fff"/>
<path d="M504.3,816.9 C502.6,813.2 499.15,810.7 499.15,807.2 A5.15,5.15 0 1 1 509.45,807.2 C509.45,810.7 506.0,813.2 504.3,816.9 Z" fill="#d8541f" stroke="#c04a1c" stroke-width="0.4"/><circle cx="504.3" cy="806.9" r="1.85" fill="#fff"/>
<path d="M517.8,817.5 C516.1,813.8 512.65,811.3 512.65,807.8 A5.15,5.15 0 1 1 522.95,807.8 C522.95,811.3 519.5,813.8 517.8,817.5 Z" fill="#d8541f" stroke="#c04a1c" stroke-width="0.4"/><circle cx="517.8" cy="807.5" r="1.85" fill="#fff"/>
<path d="M496.2,817.9 C494.5,814.2 491.05,811.7 491.05,808.2 A5.15,5.15 0 1 1 501.35,808.2 C501.35,811.7 497.9,814.2 496.2,817.9 Z" fill="#d8541f" stroke="#c04a1c" stroke-width="0.4"/><circle cx="496.2" cy="807.9" r="1.85" fill="#fff"/>
<path d="M491.1,818.7 C489.4,815.0 485.95,812.5 485.95,809.0 A5.15,5.15 0 1 1 496.25,809.0 C496.25,812.5 492.8,815.0 491.1,818.7 Z" fill="#d8541f" stroke="#c04a1c" stroke-width="0.4"/><circle cx="491.1" cy="808.7" r="1.85" fill="#fff"/>
<path d="M526.6,827.7 C524.9,824.0 521.45,821.5 521.45,818.0 A5.15,5.15 0 1 1 531.75,818.0 C531.75,821.5 528.3,824.0 526.6,827.7 Z" fill="#d8541f" stroke="#c04a1c" stroke-width="0.4"/><circle cx="526.6" cy="817.7" r="1.85" fill="#fff"/>
<path d="M495.0,829.4 C493.3,825.7 489.85,823.2 489.85,819.7 A5.15,5.15 0 1 1 500.15,819.7 C500.15,823.2 496.7,825.7 495.0,829.4 Z" fill="#d8541f" stroke="#c04a1c" stroke-width="0.4"/><circle cx="495.0" cy="819.4" r="1.85" fill="#fff"/>
<path d="M568.0,829.8 C566.3,826.1 562.85,823.6 562.85,820.1 A5.15,5.15 0 1 1 573.15,820.1 C573.15,823.6 569.7,826.1 568.0,829.8 Z" fill="#d8541f" stroke="#c04a1c" stroke-width="0.4"/><circle cx="568.0" cy="819.8" r="1.85" fill="#fff"/>
<path d="M539.0,830.7 C537.3,827.0 533.85,824.5 533.85,821.0 A5.15,5.15 0 1 1 544.15,821.0 C544.15,824.5 540.7,827.0 539.0,830.7 Z" fill="#d8541f" stroke="#c04a1c" stroke-width="0.4"/><circle cx="539.0" cy="820.7" r="1.85" fill="#fff"/>
<path d="M499.9,833.3 C498.2,829.6 494.75,827.1 494.75,823.6 A5.15,5.15 0 1 1 505.05,823.6 C505.05,827.1 501.6,829.6 499.9,833.3 Z" fill="#d8541f" stroke="#c04a1c" stroke-width="0.4"/><circle cx="499.9" cy="823.3" r="1.85" fill="#fff"/>
<path d="M481.3,835.8 C479.6,832.1 476.15,829.6 476.15,826.1 A5.15,5.15 0 1 1 486.45,826.1 C486.45,829.6 483.0,832.1 481.3,835.8 Z" fill="#d8541f" stroke="#c04a1c" stroke-width="0.4"/><circle cx="481.3" cy="825.8" r="1.85" fill="#fff"/>
<path d="M491.1,835.9 C489.4,832.2 485.95,829.7 485.95,826.2 A5.15,5.15 0 1 1 496.25,826.2 C496.25,829.7 492.8,832.2 491.1,835.9 Z" fill="#d8541f" stroke="#c04a1c" stroke-width="0.4"/><circle cx="491.1" cy="825.9" r="1.85" fill="#fff"/>
<path d="M509.7,838.2 C508.0,834.5 504.55,832.0 504.55,828.5 A5.15,5.15 0 1 1 514.85,828.5 C514.85,832.0 511.4,834.5 509.7,838.2 Z" fill="#d8541f" stroke="#c04a1c" stroke-width="0.4"/><circle cx="509.7" cy="828.2" r="1.85" fill="#fff"/>
<path d="M498.6,843.3 C496.9,839.6 493.45,837.1 493.45,833.6 A5.15,5.15 0 1 1 503.75,833.6 C503.75,837.1 500.3,839.6 498.6,843.3 Z" fill="#d8541f" stroke="#c04a1c" stroke-width="0.4"/><circle cx="498.6" cy="833.3" r="1.85" fill="#fff"/>
<path d="M560.9,843.3 C559.2,839.6 555.75,837.1 555.75,833.6 A5.15,5.15 0 1 1 566.05,833.6 C566.05,837.1 562.6,839.6 560.9,843.3 Z" fill="#d8541f" stroke="#c04a1c" stroke-width="0.4"/><circle cx="560.9" cy="833.3" r="1.85" fill="#fff"/>
<path d="M544.8,844.0 C543.1,840.3 539.65,837.8 539.65,834.3 A5.15,5.15 0 1 1 549.95,834.3 C549.95,837.8 546.5,840.3 544.8,844.0 Z" fill="#d8541f" stroke="#c04a1c" stroke-width="0.4"/><circle cx="544.8" cy="834.0" r="1.85" fill="#fff"/>
<path d="M526.7,847.2 C525.0,843.5 521.55,841.0 521.55,837.5 A5.15,5.15 0 1 1 531.85,837.5 C531.85,841.0 528.4,843.5 526.7,847.2 Z" fill="#d8541f" stroke="#c04a1c" stroke-width="0.4"/><circle cx="526.7" cy="837.2" r="1.85" fill="#fff"/>
<path d="M470.9,847.6 C469.2,843.9 465.75,841.4 465.75,837.9 A5.15,5.15 0 1 1 476.05,837.9 C476.05,841.4 472.6,843.9 470.9,847.6 Z" fill="#d8541f" stroke="#c04a1c" stroke-width="0.4"/><circle cx="470.9" cy="837.6" r="1.85" fill="#fff"/>
<path d="M514.2,848.6 C512.5,844.9 509.05,842.4 509.05,838.9 A5.15,5.15 0 1 1 519.35,838.9 C519.35,842.4 515.9,844.9 514.2,848.6 Z" fill="#d8541f" stroke="#c04a1c" stroke-width="0.4"/><circle cx="514.2" cy="838.6" r="1.85" fill="#fff"/>
<path d="M504.0,856.5 C502.3,852.8 498.85,850.3 498.85,846.8 A5.15,5.15 0 1 1 509.15,846.8 C509.15,850.3 505.7,852.8 504.0,856.5 Z" fill="#d8541f" stroke="#c04a1c" stroke-width="0.4"/><circle cx="504.0" cy="846.5" r="1.85" fill="#fff"/>
<path d="M489.0,858.3 C487.3,854.6 483.85,852.1 483.85,848.6 A5.15,5.15 0 1 1 494.15,848.6 C494.15,852.1 490.7,854.6 489.0,858.3 Z" fill="#d8541f" stroke="#c04a1c" stroke-width="0.4"/><circle cx="489.0" cy="848.3" r="1.85" fill="#fff"/>
<path d="M524.3,860.0 C522.6,856.3 519.15,853.8 519.15,850.3 A5.15,5.15 0 1 1 529.45,850.3 C529.45,853.8 526.0,856.3 524.3,860.0 Z" fill="#d8541f" stroke="#c04a1c" stroke-width="0.4"/><circle cx="524.3" cy="850.0" r="1.85" fill="#fff"/>
<path d="M564.2,870.5 C562.5,866.8 559.05,864.3 559.05,860.8 A5.15,5.15 0 1 1 569.35,860.8 C569.35,864.3 565.9,866.8 564.2,870.5 Z" fill="#d8541f" stroke="#c04a1c" stroke-width="0.4"/><circle cx="564.2" cy="860.5" r="1.85" fill="#fff"/>
</g>
<rect x="406.3" y="721.0" width="232.5" height="196.3" fill="none" stroke="#7d7d7d" stroke-width="0.9"/>
</svg>
<span class="t" style="top:948.78px;font-size:9.0px;font-weight:400;color:#2a2a2a;left:225.30px;letter-spacing:0.261px;transform:scaleX(1.0607);transform-origin:0 0;-webkit-text-stroke:0.15px #2a2a2a;white-space:pre;">Source: GA4, Brandmap (sample audience)  Updated September 2025</span>
</body></html>
